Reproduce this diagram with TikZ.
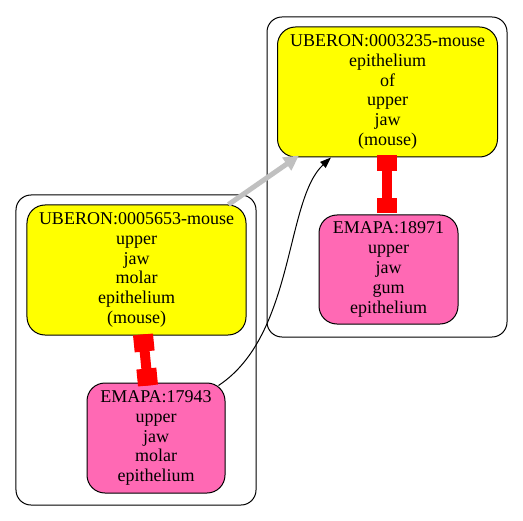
\documentclass[tikz,border=0pt]{standalone}
\usepackage{fontspec}
\setmainfont{Liberation Serif}
\usetikzlibrary{arrows.meta,calc}
\definecolor{hotpink}{HTML}{FF69B4}
\definecolor{nodeyellow}{HTML}{FFFF00}
\definecolor{edgegray}{HTML}{C0C0C0}
\begin{document}
\begin{tikzpicture}[x=1bp,y=-1bp,
  lbl/.style={font=\fontsize{18bp}{19.8bp}\selectfont, align=center, inner sep=0pt},
  cluster/.style={draw=black, line width=1bp, rounded corners=15bp, inner sep=0pt},
  ynode/.style={draw=black, fill=nodeyellow, rounded corners=18bp, line width=1bp, lbl},
  pnode/.style={draw=black, fill=hotpink, rounded corners=18bp, line width=1bp, lbl},
  rededge/.style={draw=red, line width=10bp},
  redbox/.style={draw=red, line width=20bp},
  grayedge/.style={draw=edgegray, line width=5bp, -{Triangle[length=15bp,width=15bp]}},
  blackedge/.style={draw=black, line width=1bp, -{Triangle[length=11bp,width=8bp]}}
]
\useasboundingbox (0,0) rectangle (523,521);
% clusters
\node[cluster, minimum width=240bp, minimum height=310bp] (cl) at (136,350) {};
\node[cluster, minimum width=240bp, minimum height=320bp] (cr) at (387,177) {};
% nodes
\node[ynode, minimum width=220bp, minimum height=130bp] (n1) at (387.5,92)
  {UBERON:0003235-mouse\\epithelium\\of\\upper\\jaw\\(mouse)};
\node[pnode, minimum width=139bp, minimum height=109bp] (n2) at (388.5,269.5)
  {EMAPA:18971\\upper\\jaw\\gum\\epithelium};
\node[ynode, minimum width=219bp, minimum height=130bp] (n3) at (136.5,270)
  {UBERON:0005653-mouse\\upper\\jaw\\molar\\epithelium\\(mouse)};
\node[pnode, minimum width=138bp, minimum height=110bp] (n4) at (156,438)
  {EMAPA:17943\\upper\\jaw\\molar\\epithelium};
% connector points
\coordinate (r1a) at ($(n1.south)+(-0.5,-2)$);
\coordinate (r1b) at ($(n2.north)+(-1.5,-1)$);
\coordinate (r2a) at ($(n3.south)+(6.5,-1)$);
\coordinate (r2b) at ($(n4.north)+(-8,3)$);
% red edges
\path[rededge] (r1a) -- (r1b);
\path[redbox] (r1a) -- ($(r1a)!15bp!(r1b)$);
\path[redbox] ($(r1b)!15bp!(r1a)$) -- (r1b);
\path[rededge] (r2a) -- (r2b);
\path[redbox] (r2a) -- ($(r2a)!17bp!(r2b)$);
\path[redbox] ($(r2b)!17bp!(r2a)$) -- (r2b);
% gray edge
\path[grayedge] ($(n3.north east)+(-18,0)$) -- ($(n1.south west)+(22,-2)$);
% black edge
\path[blackedge] ($(n4.north east)+(-7,3)$) .. controls (295,335) and (285,200) .. ($(n1.south west)+(54,0)$);
\end{tikzpicture}
\end{document}
